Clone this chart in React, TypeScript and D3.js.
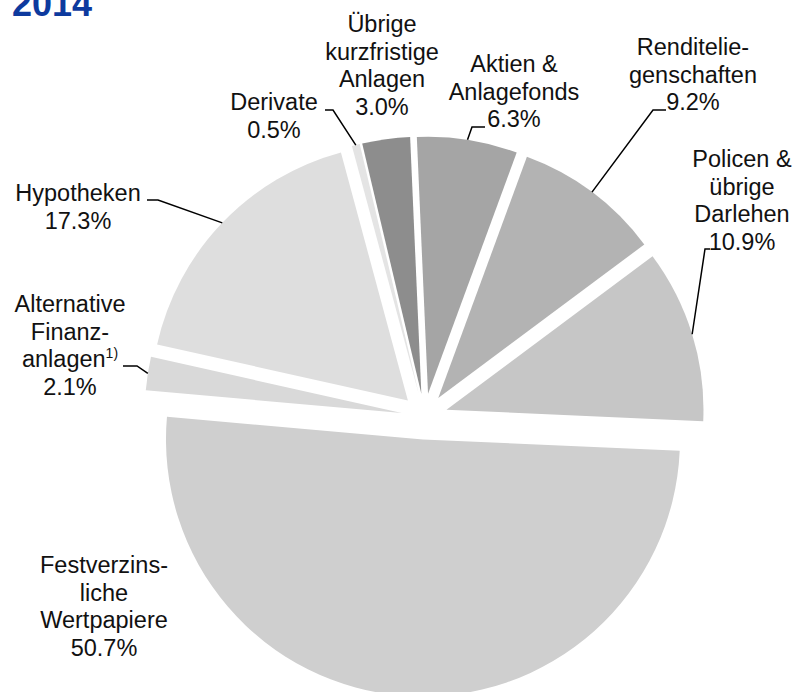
import React from "react";
import * as d3 from "d3";

// clockwise from the lower right, starting with the big slice
const categories = [
  "Festverzinsliche Wertpapiere",
  "Alternative Finanzanlagen",
  "Hypotheken",
  "Derivate",
  "Übrige kurzfristige Anlagen",
  "Aktien & Anlagefonds",
  "Renditeliegenschaften",
  "Policen & übrige Darlehen",
];
const shares = [50.7, 2.1, 17.3, 0.5, 3.0, 6.3, 9.2, 10.9];
const labelLines = [
  ["Festverzins-", "liche", "Wertpapiere"],
  ["Alternative", "Finanz-", "anlagen"],
  ["Hypotheken"],
  ["Derivate"],
  ["Übrige", "kurzfristige", "Anlagen"],
  ["Aktien &", "Anlagefonds"],
  ["Renditelie-", "genschaften"],
  ["Policen &", "übrige", "Darlehen"],
];
const footnotes = ["", "1)", "", "", "", "", "", ""];
const title = "2014";

const fills = ["#cfcfcf", "#d9d9d9", "#dedede", "#e4e4e4", "#8d8d8d", "#a5a5a5", "#b3b3b3", "#c6c6c6"];

// label layout: centre x, first baseline y
const labelPos: [number, number][] = [
  [104, 573],
  [70, 312],
  [78, 201],
  [274, 110],
  [382, 32],
  [514, 72],
  [693, 55],
  [742, 167],
];
// leader lines: elbow, end (null = no leader)
const leaders: ([number, number][] | null)[] = [
  null,
  [[137, 366], [123, 366]],
  [[158, 200], [147, 200]],
  [[333, 110], [325, 110]],
  null,
  [[472, 127], [485, 127]],
  [[653, 110], [666, 110]],
  [[705, 249], [710, 249]],
];

const W = 797, H = 692;
const cx = 424.5, cy = 416.5, R = 257, explode = 23;
const lineH = 27.7;
const font = "'Liberation Sans', Arial, sans-serif";

const unit = (a: number) => [Math.sin(a), -Math.cos(a)];

export default function App() {
  const start = (92.54 * Math.PI) / 180;
  const pie = d3.pie<number>().sort(null).value(d => d).startAngle(start).endAngle(start + 2 * Math.PI);
  const arcs = pie(shares);
  const arc = d3.arc<d3.PieArcDatum<number>>().innerRadius(0).outerRadius(R);
  const pct = (v: number) => d3.format(".1f")(v) + "%";

  return (
    <svg width={W} height={H} style={{ position: "absolute", left: 0, top: 0, background: "#fff" }} fontFamily={font}>
      <text x={12} y={16} fontSize={36} fontWeight="bold" fill="#0d3a9e">{title}</text>
      {arcs.map((a, i) => {
        const mid = (a.startAngle + a.endAngle) / 2;
        const [ux, uy] = unit(mid);
        const ax = cx + explode * ux, ay = cy + explode * uy;
        return (
          <path key={categories[i]} d={arc(a) || ""} transform={`translate(${ax},${ay})`} fill={fills[i]} />
        );
      })}
      {arcs.map((a, i) => {
        const ld = leaders[i];
        if (!ld) return null;
        const mid = (a.startAngle + a.endAngle) / 2;
        const [ux, uy] = unit(mid);
        const sx = cx + (explode + R) * ux, sy = cy + (explode + R) * uy;
        const pts: [number, number][] = [[sx, sy], ...ld];
        return <path key={"l" + i} d={d3.line()(pts) || ""} fill="none" stroke="#000" strokeWidth={1.5} />;
      })}
      {labelLines.map((lines, i) => {
        const [x, y] = labelPos[i];
        const all = [...lines, pct(shares[i])];
        return (
          <text key={"t" + i} x={x} y={y} fontSize={23.5} textAnchor="middle" fill="#111">
            {all.map((s, j) => (
              <tspan key={j} x={x} y={y + j * lineH}>
                {s}
                {j === lines.length - 1 && footnotes[i] ? (
                  <tspan fontSize={14} dy={-9}>{footnotes[i]}</tspan>
                ) : null}
              </tspan>
            ))}
          </text>
        );
      })}
    </svg>
  );
}
